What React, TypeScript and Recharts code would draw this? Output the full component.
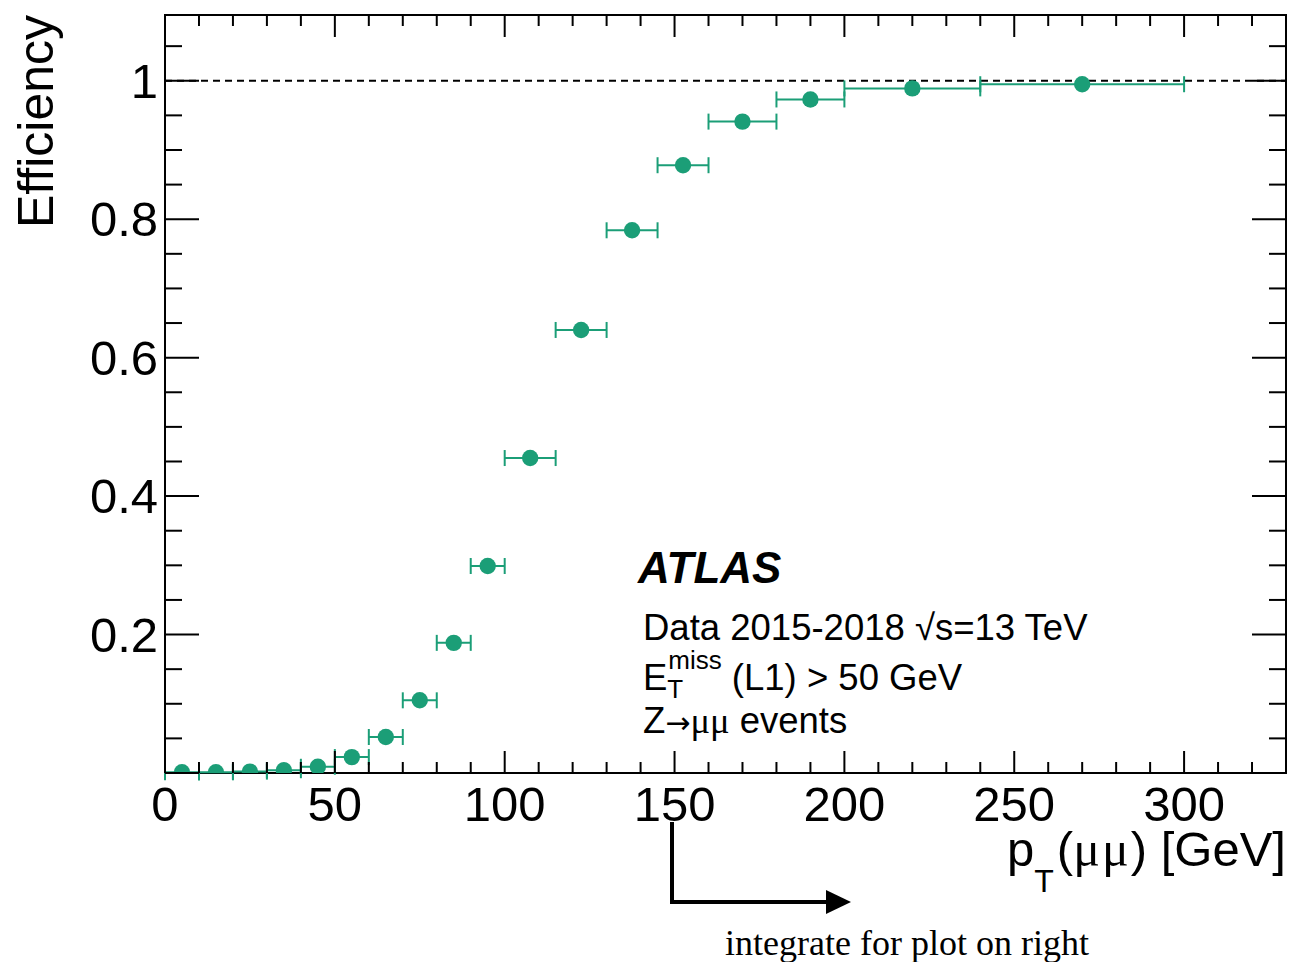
import React from "react";
import {
  ScatterChart,
  Scatter,
  XAxis,
  YAxis,
  ErrorBar,
  ReferenceLine,
  ReferenceArea,
} from "recharts";

// bins in pT(mumu) [GeV]
const binCenter = [5, 15, 25, 35, 45, 55, 65, 75, 85, 95, 107.5, 122.5, 137.5, 152.5, 170, 190, 220, 270];
const binHalfWidth = [5, 5, 5, 5, 5, 5, 5, 5, 5, 5, 7.5, 7.5, 7.5, 7.5, 10, 10, 20, 30];
const efficiency = [
  0.001, 0.001, 0.002, 0.004, 0.009, 0.023, 0.052, 0.105, 0.188, 0.299, 0.455, 0.64, 0.784, 0.878,
  0.941, 0.973, 0.989, 0.995,
];

const xTicks = [0, 10, 20, 30, 40, 50, 60, 70, 80, 90, 100, 110, 120, 130, 140, 150, 160, 170, 180, 190, 200, 210, 220, 230, 240, 250, 260, 270, 280, 290, 300, 310, 320, 330];
const xMajor = [0, 50, 100, 150, 200, 250, 300];
const yTicks = [0, 0.05, 0.1, 0.15, 0.2, 0.25, 0.3, 0.35, 0.4, 0.45, 0.5, 0.55, 0.6, 0.65, 0.7, 0.75, 0.8, 0.85, 0.9, 0.95, 1, 1.05];
const yMajor = [0, 0.2, 0.4, 0.6, 0.8, 1];
const yMajorLabels = ["", "0.2", "0.4", "0.6", "0.8", "1"];

const W = 1291;
const H = 962;
const PLOT_LEFT = 165;
const PLOT_RIGHT = 1286;
const PLOT_TOP = 15;
const PLOT_BOTTOM = 773;
const PLOT_W = PLOT_RIGHT - PLOT_LEFT;
const PLOT_H = PLOT_BOTTOM - PLOT_TOP;

const GREEN = "#1b9e77";
const FONT = "'Liberation Sans', Arial, Helvetica, sans-serif";
const SERIF = "'Liberation Serif', 'Times New Roman', serif";

const data = binCenter.map((x, i) => ({ x, y: efficiency[i], xerr: binHalfWidth[i] }));

const near = (a: number, b: number) => Math.abs(a - b) < 1e-6;

function XTick(props: any) {
  const { x, y, payload } = props;
  const v = payload.value;
  const major = xMajor.some((m) => near(m, v));
  const len = major ? 22 : 11;
  return (
    <g>
      <line x1={x} y1={y} x2={x} y2={y - len} stroke="#000" strokeWidth={2} />
      <line x1={x} y1={y - PLOT_H} x2={x} y2={y - PLOT_H + len} stroke="#000" strokeWidth={2} />
      {major && (
        <text x={x} y={y + 48} textAnchor="middle" fontSize={49} fontFamily={FONT} fill="#000">
          {v}
        </text>
      )}
    </g>
  );
}

function YTick(props: any) {
  const { x, y, payload } = props;
  const v = payload.value;
  const idx = yMajor.findIndex((m) => near(m, v));
  const major = idx >= 0;
  const len = major ? 34 : 17;
  return (
    <g>
      <line x1={x} y1={y} x2={x + len} y2={y} stroke="#000" strokeWidth={2} />
      <line x1={x + PLOT_W} y1={y} x2={x + PLOT_W - len} y2={y} stroke="#000" strokeWidth={2} />
      {major && yMajorLabels[idx] && (
        <text x={x - 7} y={y + 17} textAnchor="end" fontSize={49} fontFamily={FONT} fill="#000">
          {yMajorLabels[idx]}
        </text>
      )}
    </g>
  );
}

const Dot = (p: any) => <circle cx={p.cx} cy={p.cy} r={8.2} fill={GREEN} />;

export default function App() {
  return (
    <div style={{ position: "absolute", left: 0, top: 0, width: W, height: H, background: "#fff" }}>
      <ScatterChart
        width={W}
        height={H}
        margin={{ top: PLOT_TOP, right: W - PLOT_RIGHT, bottom: H - PLOT_BOTTOM - 30, left: PLOT_LEFT - 60 }}
      >
        <XAxis
          type="number"
          dataKey="x"
          domain={[0, 330]}
          ticks={xTicks}
          interval={0}
          height={30}
          axisLine={false}
          tickLine={false}
          tickSize={0}
          tickMargin={0}
          tick={<XTick />}
          allowDataOverflow
        />
        <YAxis
          type="number"
          dataKey="y"
          domain={[0, 1.095]}
          ticks={yTicks}
          interval={0}
          width={60}
          axisLine={false}
          tickLine={false}
          tickSize={0}
          tickMargin={0}
          tick={<YTick />}
          allowDataOverflow
        />
        <ReferenceArea x1={0} x2={330} y1={0} y2={1.095} fill="none" stroke="#000" strokeWidth={2} />
        <ReferenceLine y={1} stroke="#000" strokeWidth={2} strokeDasharray="7 5" />
        <Scatter data={data} shape={Dot} isAnimationActive={false}>
          <ErrorBar dataKey="xerr" direction="x" width={8} stroke={GREEN} strokeWidth={2} />
        </Scatter>
      </ScatterChart>
      <svg width={W} height={H} style={{ position: "absolute", left: 0, top: 0, pointerEvents: "none" }}>
        <text
          x={53}
          y={15}
          transform="rotate(-90 53 15)"
          textAnchor="end"
          fontSize={50}
          fontFamily={FONT}
          fill="#000"
        >
          Efficiency
        </text>
        <text x={1286} y={866} textAnchor="end" fontSize={49} fontFamily={FONT} fill="#000">
          p
          <tspan fontSize={32} dy={26}>T</tspan>
          <tspan dy={-26} dx={3}>(</tspan>
          <tspan fontFamily={SERIF} fontSize={50} letterSpacing={2}>μμ</tspan>
          <tspan>) [GeV]</tspan>
        </text>
        <text x={638} y={583} fontSize={44} fontWeight="bold" fontStyle="italic" fontFamily={FONT} fill="#000">
          ATLAS
        </text>
        <text x={643} y={640} fontSize={36.5} fontFamily={FONT} fill="#000">
          Data 2015-2018 √s=13 TeV
        </text>
        <text x={643} y={690} fontSize={36.5} fontFamily={FONT} fill="#000">
          E
          <tspan fontSize={26} dy={8}>T</tspan>
          <tspan fontSize={26} dx={-15} dy={-29}>miss</tspan>
          <tspan dy={21}> (L1) &gt; 50 GeV</tspan>
        </text>
        <text x={643} y={733} fontSize={36.5} fontFamily={FONT} fill="#000">
          Z
          <tspan fontFamily="'DejaVu Sans', sans-serif" fontSize={30}>→</tspan>
          <tspan fontFamily={SERIF}>μμ</tspan>
          <tspan> events</tspan>
        </text>
        <path d="M672 822 V902 H828" fill="none" stroke="#000" strokeWidth={4} />
        <polygon points="826,890 851,902 826,914" fill="#000" />
        <text x={725} y={955} fontSize={36} fontFamily={SERIF} fill="#000">
          integrate for plot on right
        </text>
      </svg>
    </div>
  );
}
